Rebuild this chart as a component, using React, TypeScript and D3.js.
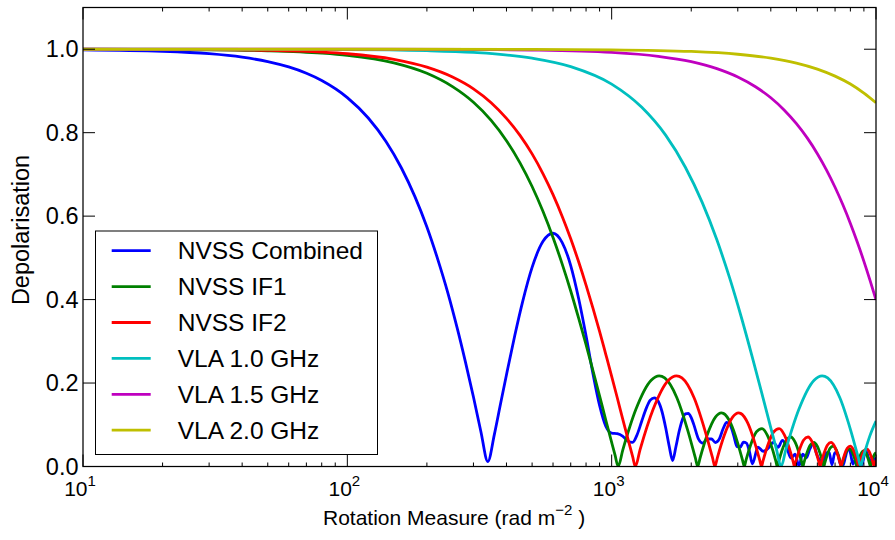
import React from 'react';
import * as d3 from 'd3';

const W = 895;
const H = 540;
const PL = 83, PR = 876, PT = 7.5, PB = 466.5;

// NVSS Combined
const rmComb = [10,20,30,40,50,60,70,80,100,120,140,160,180,200,220,240,260,280,300,320,340,360,380,400,430,460,500,550,600,650,700,750,800,850,900,950,1000,1050,1100,1150,1200,1250,1300,1350,1400,1450,1500,1550,1600,1650,1700,1750,1800,1850,1900,1950,2000,2044,2129,2214,2300,2385,2470,2555,2640,2725,2810,2896,2981,3066,3151,3236,3321,3407,3577,3747,3918,4088,4258,4429,4599,4769,4940,5110,5280,5451,5621,5791,5962,6132,6302,6473,6643,6813,6984,7154,7324,7495,7665,7835,8006,8176,8346,8517,8687,8857,9028,9198,9368,9539,9709,9879,10000];
const dComb = [0.9988,0.9952,0.9893,0.9810,0.9704,0.9575,0.9424,0.9251,0.8841,0.8352,0.7789,0.7160,0.6473,0.5739,0.4959,0.4163,0.3334,0.2496,0.1665,0.0840,0.0120,0.0770,0.1508,0.2198,0.3139,0.3940,0.4773,0.5396,0.5590,0.5367,0.4816,0.4025,0.3132,0.2220,0.1466,0.0969,0.0801,0.0787,0.0728,0.0613,0.0580,0.0773,0.1090,0.1387,0.1591,0.1645,0.1563,0.1318,0.0935,0.0492,0.0142,0.0472,0.0844,0.1116,0.1262,0.1275,0.1170,0.1009,0.0663,0.0560,0.0661,0.0659,0.0575,0.0663,0.0904,0.1054,0.0992,0.0743,0.0474,0.0465,0.0583,0.0560,0.0356,0.0062,0.0463,0.0365,0.0444,0.0580,0.0458,0.0628,0.0448,0.0203,0.0295,0.0014,0.0297,0.0210,0.0420,0.0555,0.0298,0.0154,0.0126,0.0319,0.0342,0.0042,0.0329,0.0306,0.0065,0.0021,0.0231,0.0436,0.0319,0.0057,0.0159,0.0020,0.0128,0.0041,0.0267,0.0363,0.0209,0.0149,0.0111,0.0172,0.0215];

// NVSS IF1
const rmIF1 = [10,30,50,80,100,150,200,250,300,350,400,450,500,550,600,650,700,750,800,850,900,950,1000,1030,1058,
  1102,1234,1411,1513,1587,1763,1940,2072,2116,
  2160,2292,2469,2602,2645,2821,2998,3130,3174,
  3218,3350,3527,3703,3879,4056,4188,4232,
  4276,4408,4585,4761,4937,5114,5246,5290,
  5334,5466,5643,5819,5995,6172,6304,6348,
  6392,6524,6701,6877,7053,7230,7362,7406,
  7450,7582,7759,7935,8111,8288,8420,8464,
  8508,8640,8817,8993,9169,9346,9478,9522,
  9566,9698,9875,10000];
const dIF1 = [0.99985,0.99868,0.99633,0.9906,0.98535,0.96727,0.94226,0.91037,0.87289,0.82954,0.78089,0.72779,0.67107,0.61108,0.54881,0.48505,0.4206,0.35537,0.29197,0.22945,0.1695,0.1114,0.0577,0.02713,0,
  0.03988,0.13642,0.20674,0.2172,0.21221,0.16539,0.08681,0.02121,0,
  0.02035,0.07346,0.11814,0.1284,0.12732,0.10337,0.05617,0.01404,0,
  0.01366,0.05026,0.0827,0.09095,0.07518,0.04152,0.01049,0,
  0.01028,0.0382,0.06361,0.07074,0.05907,0.03293,0.00838,0,
  0.00824,0.0308,0.05169,0.05787,0.04865,0.02728,0.00697,0,
  0.00688,0.02581,0.04352,0.04897,0.04135,0.02329,0.00597,0,
  0.0059,0.02221,0.03759,0.04244,0.03596,0.02032,0.00522,0,
  0.00517,0.01949,0.03308,0.03745,0.03181,0.01802,0.00464,0,
  0.00459,0.01736,0.02953,0.03329];

// NVSS IF2
const rmIF2 = [10,30,50,80,100,150,200,250,300,350,400,450,500,550,600,650,700,750,800,850,900,950,1000,1050,1100,1150,1200,1229,
  1280,1434,1639,1758,1844,2048,2253,2407,2458,
  2509,2663,2868,3022,3073,3277,3482,3636,3687,
  3738,3892,4097,4302,4506,4711,4865,4916,
  4967,5121,5326,5531,5735,5940,6094,6145,
  6196,6350,6555,6760,6964,7169,7323,7374,
  7425,7579,7784,7989,8193,8398,8552,8603,
  8654,8808,9013,9218,9422,9627,9781,9832,
  9883,10000];
const dIF2 = [0.99989,0.99902,0.99728,0.99303,0.98914,0.97568,0.95701,0.93339,0.90508,0.87187,0.8344,0.79365,0.74918,0.70154,0.65156,0.59938,0.54565,0.49057,0.43481,0.37908,0.32403,0.26896,0.21624,0.16475,0.11478,0.06802,0.02416,0,
  0.03988,0.13642,0.20674,0.2172,0.21221,0.16539,0.08681,0.02121,0,
  0.02035,0.07346,0.11814,0.1284,0.12732,0.10337,0.05617,0.01404,0,
  0.01366,0.05026,0.0827,0.09095,0.07518,0.04152,0.01049,0,
  0.01028,0.0382,0.06361,0.07074,0.05907,0.03293,0.00838,0,
  0.00824,0.0308,0.05169,0.05787,0.04865,0.02728,0.00697,0,
  0.00688,0.02581,0.04352,0.04897,0.04135,0.02329,0.00597,0,
  0.0059,0.02221,0.03759,0.04244,0.03596,0.02032,0.00522,0,
  0.00517,0.01628];

// VLA 1.0 GHz
const rmV10 = [10,100,200,300,500,700,1000,1300,1600,1900,2200,2500,2800,3100,3400,3700,4000,4200,4375,4557,5104,5833,6258,6563,7292,8021,8568,8750,8932,9479,10000];
const dV10 = [1.0,0.99914,0.99656,0.99228,0.97866,0.9584,0.9165,0.8608,0.7941,0.7172,0.633,0.5432,0.4501,0.3559,0.2633,0.1752,0.0925,0.0416,0,0.03988,0.13642,0.20674,0.2172,0.21221,0.16539,0.08681,0.02121,0,0.02035,0.07346,0.1089];

// VLA 1.5 GHz
const rmV15 = [10,100,300,500,1000,1500,2000,2500,3000,3500,4000,4500,5000,5500,6000,6500,7000,7500,8000,8500,9000,9500,10000];
const dV15 = [1.0,0.99992,0.9993,0.99811,0.99247,0.98311,0.97016,0.9535,0.9335,0.9101,0.8837,0.854,0.8217,0.7869,0.7497,0.7104,0.6692,0.6265,0.5825,0.5374,0.4917,0.4455,0.3992];

// VLA 2.0 GHz
const rmV20 = [10,100,500,1000,2000,3000,4000,5000,6000,7000,8000,9000,10000];
const dV20 = [1.0,1.0,0.99966,0.99866,0.99464,0.98797,0.97866,0.9667,0.9523,0.9355,0.9165,0.8948,0.8717];

const seriesNames = ['NVSS Combined', 'NVSS IF1', 'NVSS IF2', 'VLA 1.0 GHz', 'VLA 1.5 GHz', 'VLA 2.0 GHz'];
const seriesColors = ['#0000ff', '#008000', '#ff0000', '#00bfbf', '#bf00bf', '#bfbf00'];
const seriesRM = [rmComb, rmIF1, rmIF2, rmV10, rmV15, rmV20];
const seriesD = [dComb, dIF1, dIF2, dV10, dV15, dV20];

const xMajor = [10, 100, 1000, 10000];
const xExp = ['1', '2', '3', '4'];
const yTicks = [0, 0.2, 0.4, 0.6, 0.8, 1.0];
const yTickLabels = ['0.0', '0.2', '0.4', '0.6', '0.8', '1.0'];

const FONT = '"Liberation Sans", Arial, Helvetica, sans-serif';

export default function App() {
  const x = d3.scaleLog().domain([10, 10000]).range([PL, PR]);
  const y = d3.scaleLinear().domain([0, 1.1]).range([PB, PT]);
  const line = d3.line<[number, number]>()
    .x(d => x(d[0]))
    .y(d => y(d[1]))
    .curve(d3.curveMonotoneX);

  const minor: number[] = [];
  [10, 100, 1000].forEach(k => { for (let m = 2; m <= 9; m++) minor.push(k * m); });

  const legendX = 95.5, legendY = 231, legendW = 282, legendH = 223.5;
  const rowY0 = 250.7, rowStep = 35.9;

  return (
    <svg width={W} height={H} style={{ position: 'absolute', left: 0, top: 0, background: '#fff' }} fontFamily={FONT}>
      <rect x={0} y={0} width={W} height={H} fill="#fff" />
      <defs>
        <clipPath id="plotClip">
          <rect x={PL} y={PT} width={PR - PL} height={PB - PT} />
        </clipPath>
      </defs>
      <g clipPath="url(#plotClip)">
        {seriesRM.map((rms, i) => {
          const vals = seriesD[i];
          const n = Math.min(rms.length, vals.length);
          const pts: [number, number][] = [];
          for (let j = 0; j < n; j++) pts.push([rms[j], vals[j]]);
          return <path key={i} d={line(pts) || ''} fill="none" stroke={seriesColors[i]} strokeWidth={2.8} strokeLinejoin="round" />;
        })}
      </g>
      {/* ticks */}
      <g stroke="#000" strokeWidth={1}>
        {xMajor.map((v, i) => (
          <g key={'xm' + i}>
            <line x1={x(v)} x2={x(v)} y1={PB} y2={PB - 12} />
            <line x1={x(v)} x2={x(v)} y1={PT} y2={PT + 12} />
          </g>
        ))}
        {minor.map((v, i) => (
          <g key={'xn' + i}>
            <line x1={x(v)} x2={x(v)} y1={PB} y2={PB - 4} />
            <line x1={x(v)} x2={x(v)} y1={PT} y2={PT + 4} />
          </g>
        ))}
        {yTicks.map((v, i) => (
          <g key={'y' + i}>
            <line x1={PL} x2={PL + 12} y1={y(v)} y2={y(v)} />
            <line x1={PR} x2={PR - 12} y1={y(v)} y2={y(v)} />
          </g>
        ))}
      </g>
      <rect x={PL} y={PT} width={PR - PL} height={PB - PT} fill="none" stroke="#000" strokeWidth={1.25} />
      {/* tick labels */}
      {yTicks.map((v, i) => (
        <text key={'yl' + i} x={78.5} y={y(v) + 8.2} textAnchor="end" fontSize={23.5} fill="#000">{yTickLabels[i]}</text>
      ))}
      {xMajor.map((v, i) => (
        <text key={'xl' + i} x={x(v) - 3} y={496} textAnchor="middle" fontSize={21} fill="#000">
          10<tspan dy={-10.5} fontSize={15}>{xExp[i]}</tspan>
        </text>
      ))}
      {/* axis labels */}
      <text x={323} y={525} fontSize={21} fill="#000">
        Rotation Measure (rad m<tspan dy={-10} fontSize={15}>−2</tspan><tspan dy={10}> )</tspan>
      </text>
      <text transform={`translate(29,230) rotate(-90)`} textAnchor="middle" fontSize={23.5} fill="#000">Depolarisation</text>
      {/* legend */}
      <rect x={legendX} y={legendY} width={legendW} height={legendH} fill="#fff" stroke="#000" strokeWidth={1} />
      {seriesNames.map((name, i) => (
        <g key={'lg' + i}>
          <line x1={111.7} x2={150.7} y1={rowY0 + i * rowStep} y2={rowY0 + i * rowStep} stroke={seriesColors[i]} strokeWidth={2.8} />
          <text x={177.7} y={rowY0 + i * rowStep + 8.5} fontSize={24.5} fill="#000">{name}</text>
        </g>
      ))}
    </svg>
  );
}
